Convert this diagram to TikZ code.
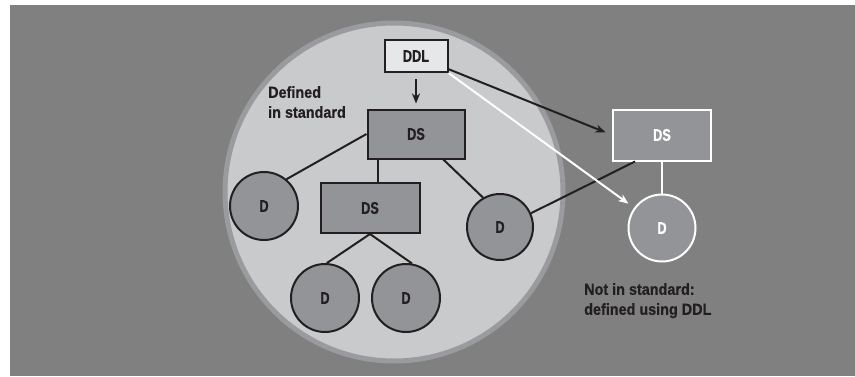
\documentclass[tikz,border=0pt]{standalone}
\usepackage{fontspec}
\setmainfont[FakeStretch=0.9,BoldFeatures={FakeBold=0.6}]{Liberation Sans}
\newfontfamily\narrowlabel[FakeStretch=0.75,BoldFeatures={FakeBold=0.6}]{Liberation Sans}
\usetikzlibrary{arrows.meta,calc}

\definecolor{bggray}{HTML}{808080}
\definecolor{discfill}{HTML}{C9CACC}
\definecolor{discring}{HTML}{9A9B9E}
\definecolor{boxgray}{HTML}{939498}
\definecolor{ddlfill}{HTML}{E6E7E9}
\definecolor{ink}{HTML}{231F20}

\tikzset{
  labelfont/.style={font=\narrowlabel\fontsize{17}{18}\selectfont\bfseries},
  notefont/.style={font=\fontsize{16}{20}\selectfont\bfseries, align=left, inner sep=0pt, text=ink},
  stdbox/.style={rectangle, draw=ink, line width=2pt, fill=boxgray, inner sep=0pt, labelfont, text=ink},
  stdleaf/.style={circle, draw=ink, line width=2pt, fill=boxgray, inner sep=0pt, labelfont, text=ink},
  extbox/.style={rectangle, draw=white, line width=2pt, fill=boxgray, inner sep=0pt, labelfont, text=white},
  extleaf/.style={circle, draw=white, line width=2pt, fill=boxgray, inner sep=0pt, labelfont, text=white},
  link/.style={draw=ink, line width=2pt},
  arrowtip/.style={-{Stealth[length=10pt,width=8pt,inset=3pt]}},
}

\begin{document}
\begin{tikzpicture}[x=1pt,y=-1pt]
  % canvas and backdrop
  \useasboundingbox (0,0) rectangle (855,376);
  \fill[bggray] (10,5) rectangle (855,376);

  % region of the standard
  \draw[discring, line width=5pt, fill=discfill] (394,192) circle[radius=169];

  % standard nodes
  \node[stdbox, fill=ddlfill, minimum width=63pt, minimum height=32pt] (ddl) at (416,56) {DDL};
  \node[stdbox, minimum width=97pt, minimum height=49pt] (ds1) at (416,134) {DS};
  \node[stdbox, minimum width=99pt, minimum height=50pt] (ds2) at (370,208) {DS};
  \node[stdleaf, minimum size=68pt] (d1) at (264,206) {D};
  \node[stdleaf, minimum size=68pt] (d2) at (325,298) {D};
  \node[stdleaf, minimum size=68pt] (d3) at (406,298) {D};
  \node[stdleaf, minimum size=66pt] (d4) at (500,227) {D};

  % nodes defined with DDL
  \node[extbox, minimum width=98pt, minimum height=51pt] (dsr) at (662,135) {DS};
  \node[extleaf, minimum size=67pt] (dr) at (662,228) {D};

  % notes
  \node[notefont, anchor=north west] (instd) at (268,86) {Defined\\in standard};
  \node[notefont, anchor=north west] (notstd) at (584,283) {Not in standard:\\defined using DDL};

  % tree links inside the standard
  \draw[link, arrowtip, shorten <=6pt, shorten >=5pt] (ddl.south) -- (ddl.south |- ds1.north);
  \draw[link] ([xshift=-38pt]ds1.south) -- ([xshift=-38pt]ds1.south |- ds2.north);
  \draw[link] (ds1.west) -- (d1.50);
  \draw[link] (ds1.-43) -- (d4.120);
  \draw[link] (ds2.south) -- (d2.87);
  \draw[link] (ds2.south) -- (d3.80);

  % links to the DDL-defined nodes
  \draw[link, white] (dsr.south) -- (dr.north);
  \draw[link] ([xshift=-27pt]dsr.south) -- (d4.24);
  \draw[link, arrowtip, shorten >=7pt] (ddl.-22) -- (dsr.west);
  \draw[link, white, arrowtip, shorten >=7pt] (ddl.south east) -- (dr);
\end{tikzpicture}
\end{document}
